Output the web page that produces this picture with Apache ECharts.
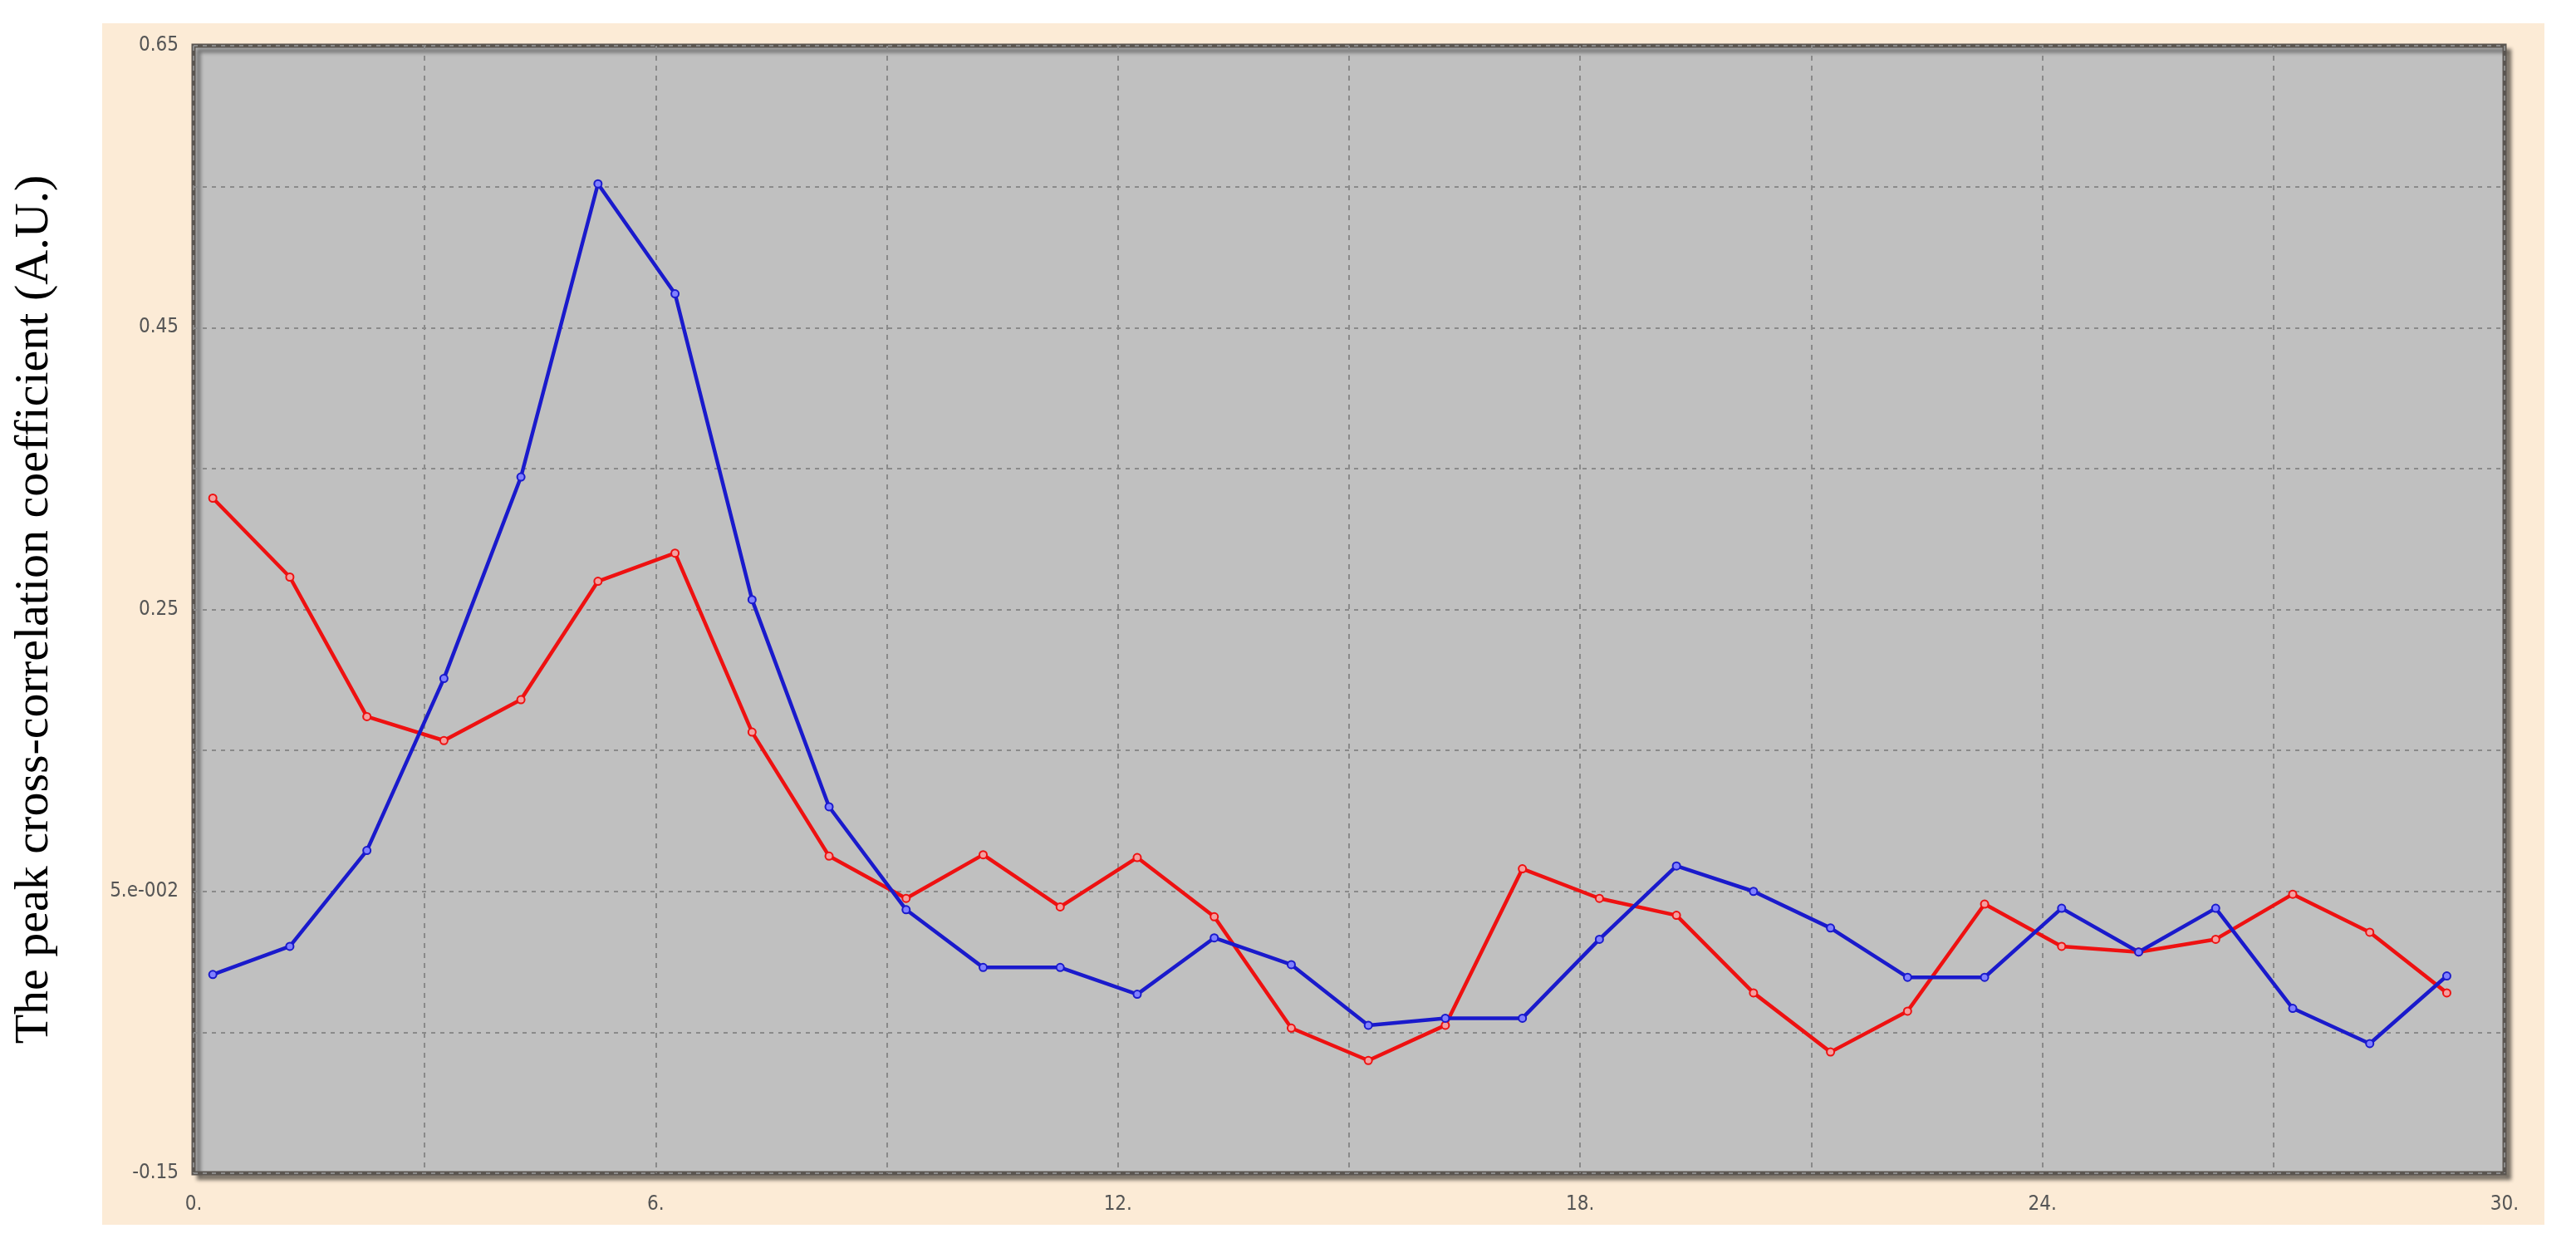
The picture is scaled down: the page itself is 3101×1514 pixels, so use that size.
<!DOCTYPE html>
<html><head><meta charset="utf-8">
<script src="https://cdn.jsdelivr.net/npm/echarts@6/dist/echarts.min.js"></script>
<style>html,body{margin:0;background:#fff}#c{width:3101px;height:1514px}</style>
</head><body><div id="c"></div>
<script>
const xPositions = [0.25,1.25,2.25,3.25,4.25,5.25,6.25,7.25,8.25,9.25,10.25,11.25,12.25,13.25,14.25,15.25,16.25,17.25,18.25,19.25,20.25,21.25,22.25,23.25,24.25,25.25,26.25,27.25,28.25,29.25];
const blueValues = [-0.009,0.011,0.079,0.201,0.344,0.552,0.474,0.257,0.110,0.037,-0.004,-0.004,-0.023,0.017,-0.002,-0.045,-0.040,-0.040,0.016,0.068,0.050,0.024,-0.011,-0.011,0.038,0.007,0.038,-0.033,-0.058,-0.010];
const redValues = [0.329,0.273,0.174,0.157,0.186,0.270,0.290,0.163,0.075,0.045,0.076,0.039,0.074,0.032,-0.047,-0.070,-0.045,0.066,0.045,0.033,-0.022,-0.064,-0.035,0.041,0.011,0.007,0.016,0.048,0.021,-0.022];
const yTickLabels = {"-0.15":"-0.15","0.05":"5.e-002","0.25":"0.25","0.45":"0.45","0.65":"0.65"};
const xTickLabels = {"0":"0.","6":"6.","12":"12.","18":"18.","24":"24.","30":"30."};
const yTitle = "The peak cross-correlation coefficient (A.U.)";

const chart = echarts.init(document.getElementById('c'));
const pair = v => v.map((y,i)=>[xPositions[i],y]);
const tickFont = {color:'#555',fontSize:24,fontFamily:'Liberation Sans Narrow, DejaVu Sans Condensed, sans-serif'};
chart.setOption({
  animation:false,
  graphic:[{type:'rect',z:-10,shape:{x:123,y:28,width:2940,height:1446},style:{fill:'#fcebd6'}}],
  grid:{left:233,right:86,top:55,bottom:102,show:true,backgroundColor:'#c0c0c0',borderColor:'#5a5550',borderWidth:5,shadowColor:'rgba(0,0,0,0.4)',shadowOffsetX:6,shadowOffsetY:6,shadowBlur:4},
  xAxis:{type:'value',min:0,max:30,interval:3,
    axisLine:{show:false},axisTick:{show:false},
    axisLabel:{...tickFont,margin:26,formatter:v=>xTickLabels[String(Math.round(v))]||''},
    splitLine:{show:true,lineStyle:{color:'#8a8a8a',type:[6,6],width:2}}},
  yAxis:{type:'value',min:-0.15,max:0.65,interval:0.1,
    name:yTitle,nameLocation:'middle',nameGap:162,
    nameTextStyle:{fontFamily:'Liberation Serif, serif',fontSize:58,color:'#000'},
    axisLine:{show:false},axisTick:{show:false},
    axisLabel:{...tickFont,margin:18,formatter:v=>yTickLabels[String(Math.round(v*100)/100)]||''},
    splitLine:{show:true,lineStyle:{color:'#8a8a8a',type:[5,6],width:2}}},
  series:[
    {type:'line',data:pair(redValues),symbol:'circle',symbolSize:9,itemStyle:{color:'#f4a0a0',borderColor:'#ee1111',borderWidth:2},lineStyle:{color:'#ee1111',width:4.5}},
    {type:'line',data:pair(blueValues),symbol:'circle',symbolSize:9,itemStyle:{color:'#8080ff',borderColor:'#1a1acc',borderWidth:2},lineStyle:{color:'#1a1acc',width:4.5}}
  ]
});
</script></body></html>
